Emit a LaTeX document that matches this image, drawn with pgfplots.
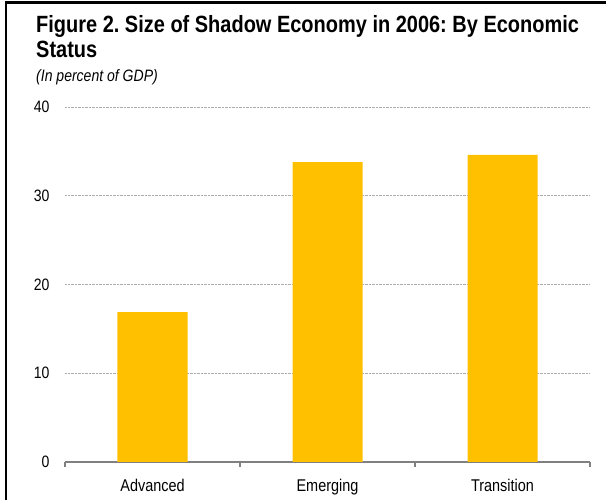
\documentclass[border=0pt]{standalone}
\usepackage{fontspec}
\setmainfont{Liberation Sans}[FakeStretch=0.85]
\usepackage{pgfplots}
\pgfplotsset{compat=1.18}
\definecolor{baryellow}{HTML}{FFC000}
\definecolor{axgray}{HTML}{808080}
\begin{document}
\frenchspacing
\begin{tikzpicture}[x=1pt,y=1pt]
\begin{axis}[
  at={(65pt,38pt)}, anchor=south west,
  scale only axis, width=525pt, height=355pt,
  xmin=-0.5, xmax=2.5, ymin=0, ymax=40,
  axis x line*=bottom, axis y line*=left,
  y axis line style={draw=none},
  x axis line style={axgray, line width=1.3pt},
  xtick={-0.5,0.5,1.5,2.5}, xticklabels={},
  tick align=outside, major tick length=5pt,
  xtick style={axgray, line width=1.1pt},
  ytick={0,10,20,30,40},
  ytick style={draw=none},
  ymajorgrids,
  grid style={densely dotted, gray!65, line width=0.8pt},
  extra x ticks={0,1,2},
  extra x tick labels={Advanced,Emerging,Transition},
  extra x tick style={major tick length=0pt, grid=none, tick style={draw=none},
     tick label style={yshift=-14pt, font=\fontsize{17}{19}\selectfont}},
  /pgf/number format/assume math mode=true,
  tick label style={font=\fontsize{16.5}{18}\selectfont, black},
  yticklabel style={xshift=-7pt},
  ybar, bar width=70pt,
]
\addplot[fill=baryellow, draw=none] coordinates {(0,16.9) (1,33.8) (2,34.6)};
\end{axis}
\draw[line width=2.6pt] (6pt,0pt) -- (6pt,497.3pt) -- (606pt,497.3pt);
\node[anchor=base west,inner sep=0pt,font=\fontsize{23.5}{26}\selectfont\bfseries] at (36pt,467pt) {Figure 2. Size of Shadow Economy in 2006: By Economic};
\node[anchor=base west,inner sep=0pt,font=\fontsize{23.5}{26}\selectfont\bfseries] at (36pt,442pt) {Status};
\node[anchor=base west,inner sep=0pt,font=\fontsize{16.5}{19}\selectfont\itshape] at (36pt,418pt) {(In percent of GDP)};
\pgfresetboundingbox
\path[use as bounding box] (0pt,0pt) rectangle (606pt,500pt);
\end{tikzpicture}
\end{document}
